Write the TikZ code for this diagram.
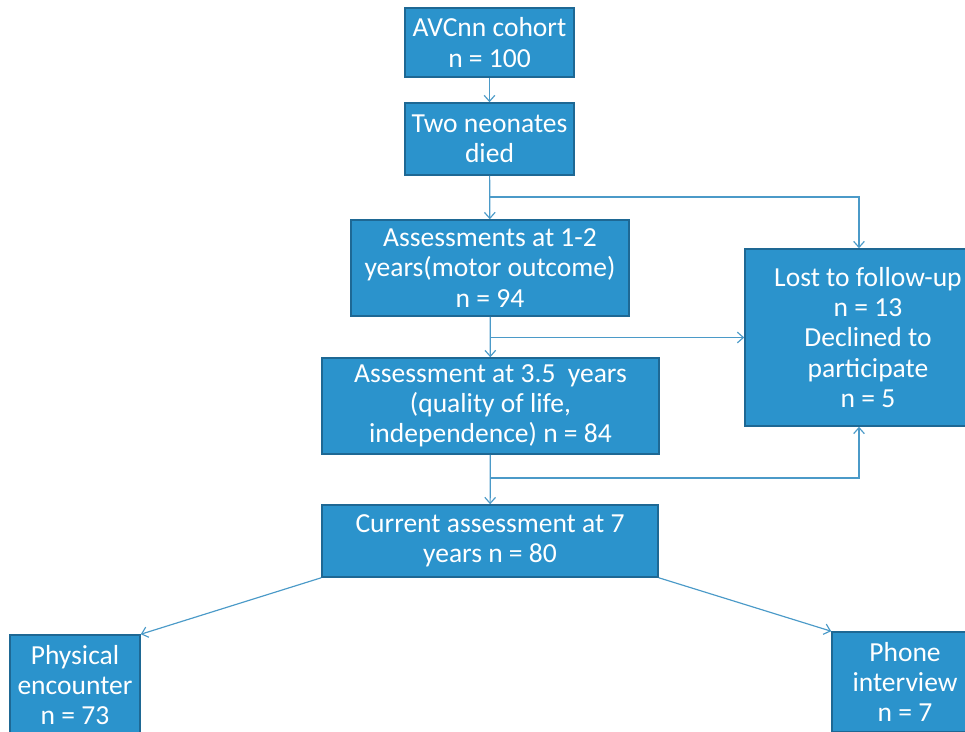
\documentclass[tikz,border=0pt]{standalone}
\usepackage{fontspec}
\setmainfont{Carlito}
\usetikzlibrary{arrows.meta}
\definecolor{boxblue}{RGB}{43,147,204}
\definecolor{boxedge}{RGB}{30,104,148}
\definecolor{lineblue}{RGB}{75,154,200}

\begin{document}
\begin{tikzpicture}[
		>={Straight Barb[length=1.8mm, width=3.2mm]},
		box/.style={rectangle, draw=boxedge, fill=boxblue, line width=1.3pt, text=white, inner sep=0pt, font=\fontsize{23.5}{25.8}\selectfont, align=center},
		flow/.style={->, lineblue, line width=1pt}
		]
		\useasboundingbox (0,0) rectangle (28.95,-21.93);
		
		% Main column
		\node[box, minimum width=5.07cm, minimum height=2.07cm] (cohort) at (14.685,-1.275) {AVCnn cohort\\n = 100};
		\node[box, minimum width=5.07cm, minimum height=2.16cm] (died) at (14.685,-4.17) {Two neonates\\died};
		\node[box, minimum width=8.34cm, minimum height=2.88cm] (assess1) at (14.7,-8.04) {Assessments at 1-2\\years(motor outcome)\\n = 94};
		\node[box, minimum width=10.11cm, minimum height=2.88cm] (assess2) at (14.715,-12.18) {Assessment at 3.5~ years\\(quality of life,\\independence) n = 84};
		\node[box, minimum width=10.08cm, minimum height=2.16cm] (current) at (14.7,-16.23) {Current assessment at 7\\years n = 80};
		
		% Drop-outs
		\node[box, minimum width=7.38cm, minimum height=5.31cm] (lost) at (26.04,-10.125) {Lost to follow-up\\n = 13\\Declined to\\participate\\n = 5};
		
		% Bottom row
		\node[box, minimum width=3.9cm, minimum height=3.0cm] (physical) at (2.25,-20.55) {Physical\\encounter\\n = 73};
		\node[box, minimum width=4.38cm, minimum height=3.0cm] (phone) at (27.15,-20.46) {Phone\\interview\\n = 7};
		
		% Junctions on the main line
		\coordinate (j1) at (14.7,-5.91);
		\coordinate (j3) at (14.7,-14.34);
		
		% Main flow
		\draw[flow] (cohort) -- (died);
		\draw[flow] (died) -- (assess1);
		\draw[flow] (assess1) -- (assess2);
		\draw[flow] (assess2) -- (current);
		
		% Branches to drop-outs
		\draw[flow] (j1) -| ([xshift=-0.27cm]lost.north);
		\draw[flow] (assess1.south |- lost.west) -- (lost.west);
		\draw[flow] (j3) -| ([xshift=-0.27cm]lost.south);
		
		% Split of the current assessment
		\draw[flow] (current.south west) -- (physical.north east);
		\draw[flow] (current.south east) -- (phone.north west);
		
	\end{tikzpicture}
\end{document}
